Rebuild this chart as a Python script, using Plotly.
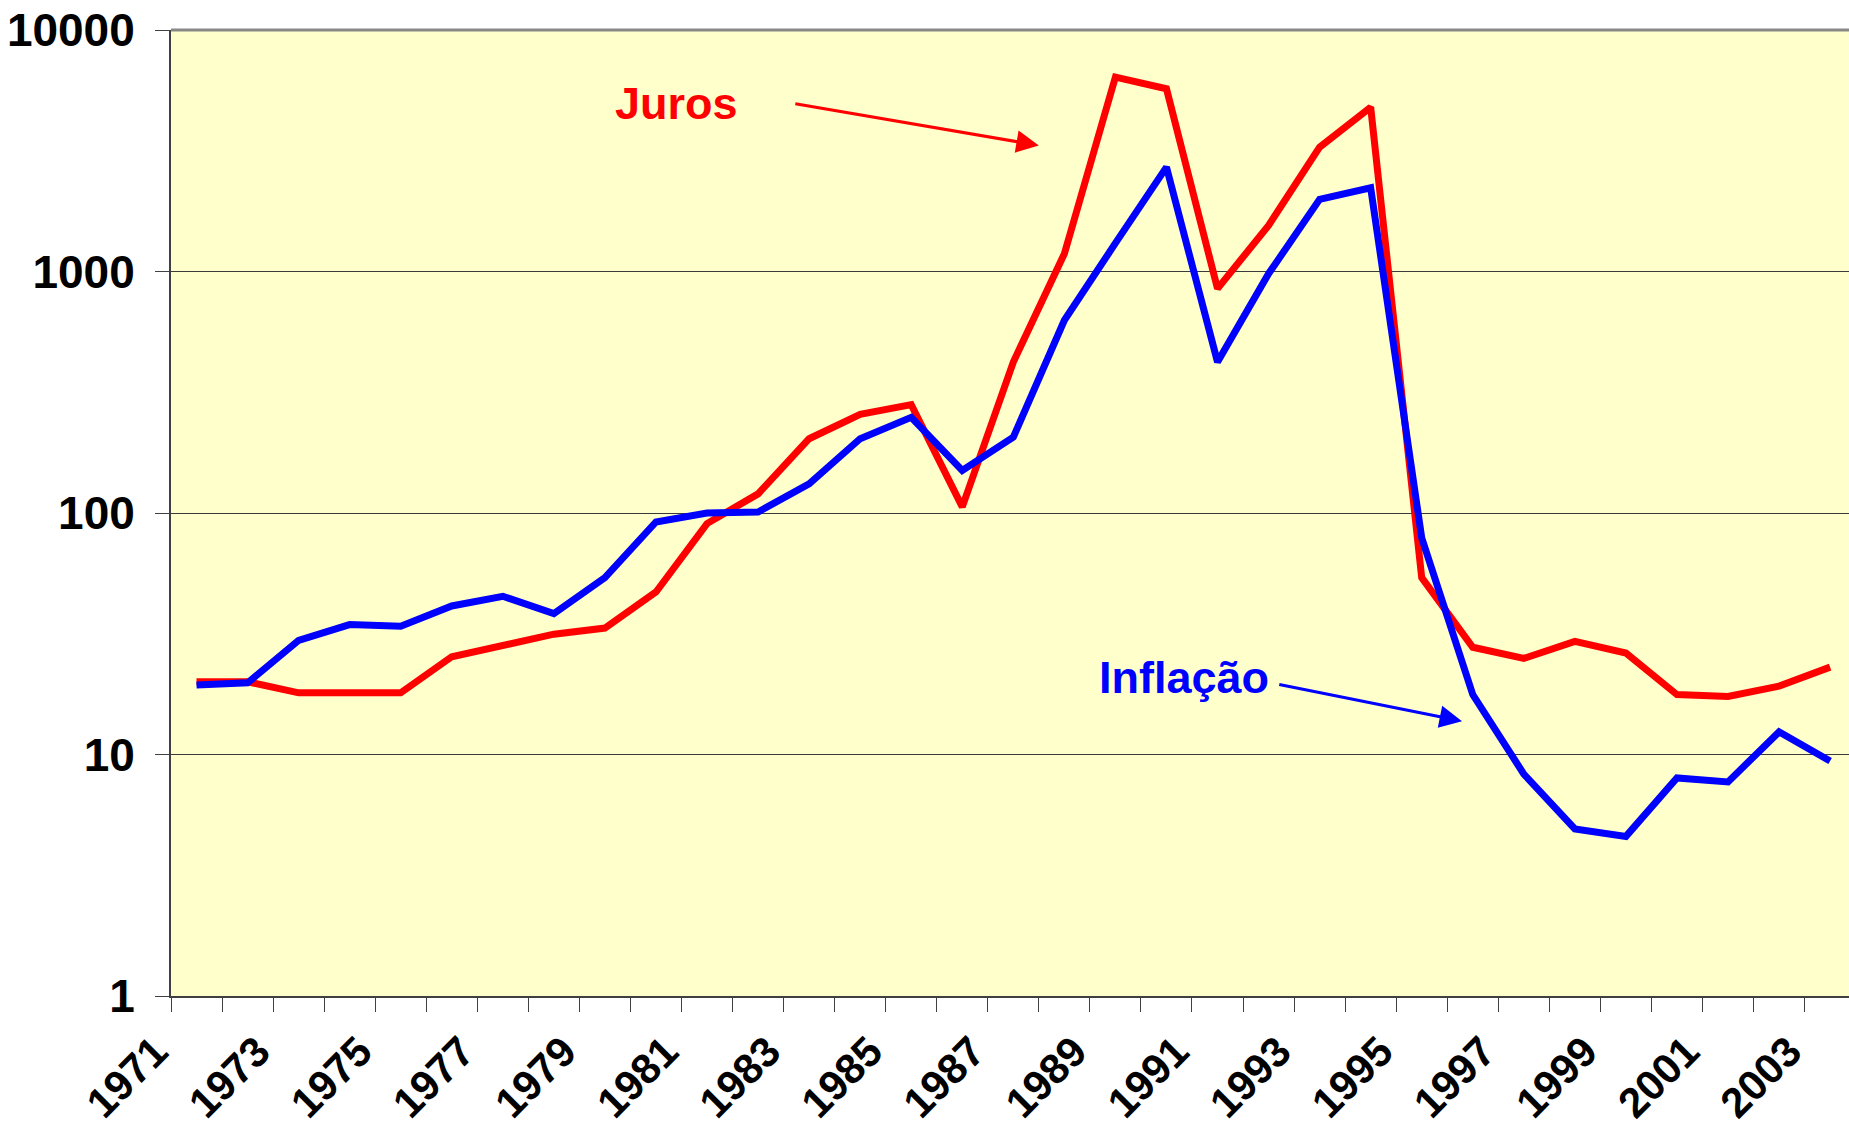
import plotly.graph_objects as go

years = list(range(1971, 2004))
juros = [20.0, 20.0, 18.0, 18.0, 18.0, 25.4, 28.3, 31.5, 33.4, 47.1,
         90.4, 120, 203, 256, 281, 106, 422, 1185, 6380, 5710,
         849, 1552, 3273, 4790, 54, 27.8, 25.0, 29.4, 26.3, 17.7,
         17.4, 19.2, 23.0]
inflacao = [19.4, 19.8, 29.7, 34.5, 34.0, 41.2, 45.2, 38.3, 54.0, 91.8,
            100, 101, 132, 203, 249, 150, 206, 628, 1310, 2704,
            422, 979, 1989, 2222, 78.9, 17.7, 8.3, 4.92, 4.58, 8.0,
            7.7, 12.4, 9.4]
y_ticks = [1, 10, 100, 1000, 10000]
y_ticktext = ["1", "10", "100", "1000", "10000"]

idx = list(range(len(years)))
label_idx = idx[::2]
label_text = [str(years[i]) for i in label_idx]

FONT = "Liberation Sans, Arial, sans-serif"

fig = go.Figure()
fig.add_trace(go.Scatter(x=idx, y=juros, mode="lines", name="Juros",
                         line=dict(color="#FF0000", width=7)))
fig.add_trace(go.Scatter(x=idx, y=inflacao, mode="lines", name="Inflação",
                         line=dict(color="#0000FF", width=7)))

fig.update_layout(
    width=1849, height=1126,
    margin=dict(l=171, r=0, t=30, b=130),
    plot_bgcolor="#FFFFCC", paper_bgcolor="white",
    showlegend=False,
    xaxis=dict(
        type="linear", range=[-0.5, 32.37], automargin=False,
        tickmode="array", tickvals=label_idx, ticktext=label_text,
        tickangle=-45, ticks="", ticklabeloverflow="allow",
        showgrid=False, zeroline=False,
        showline=True, linecolor="#404040", linewidth=2,
        tickfont=dict(family=FONT, size=42, color="black", weight="bold"),
        ticklabelshift=-41, ticklabelstandoff=12,
        minor=dict(tickmode="array", tickvals=[i - 0.5 for i in range(len(years) + 1)],
                   ticks="outside", ticklen=14, tickcolor="#404040", tickwidth=1,
                   showgrid=False),
    ),
    yaxis=dict(
        type="log", range=[0, 4], automargin=False,
        tickmode="array", tickvals=y_ticks, ticktext=y_ticktext,
        ticks="outside", ticklen=14, tickcolor="#404040", tickwidth=1,
        ticklabeloverflow="allow",
        showgrid=True, gridcolor="#3a3a3a", gridwidth=1,
        showline=True, linecolor="#404040", linewidth=2, zeroline=False,
        tickfont=dict(family=FONT, size=46, color="black", weight="bold"),
        ticklabelstandoff=11,
    ),
)

fig.add_shape(type="line", xref="paper", yref="paper", x0=0, x1=1, y0=1, y1=1,
              line=dict(color="#888888", width=3))

# text labels
fig.add_annotation(x=9.40, y=3.696, xref="x", yref="y", text="Juros", showarrow=False,
                   font=dict(family=FONT, size=45, color="#FF0000", weight="bold"))
fig.add_annotation(x=19.34, y=1.320, xref="x", yref="y", text="Inflação", showarrow=False,
                   font=dict(family=FONT, size=45, color="#0000FF", weight="bold"))
# arrows
fig.add_annotation(x=16.50, y=3.522, ax=11.70, ay=3.696, xref="x", yref="y",
                   axref="x", ayref="y", text="", showarrow=True,
                   arrowhead=2, arrowsize=1.5, arrowwidth=3, arrowcolor="#FF0000")
fig.add_annotation(x=24.79, y=1.138, ax=21.18, ay=1.291, xref="x", yref="y",
                   axref="x", ayref="y", text="", showarrow=True,
                   arrowhead=2, arrowsize=1.5, arrowwidth=3, arrowcolor="#0000FF")

fig.write_html("out.html", config={"displayModeBar": False},
               post_script="document.body.style.margin='0';document.body.style.overflow='hidden';")
